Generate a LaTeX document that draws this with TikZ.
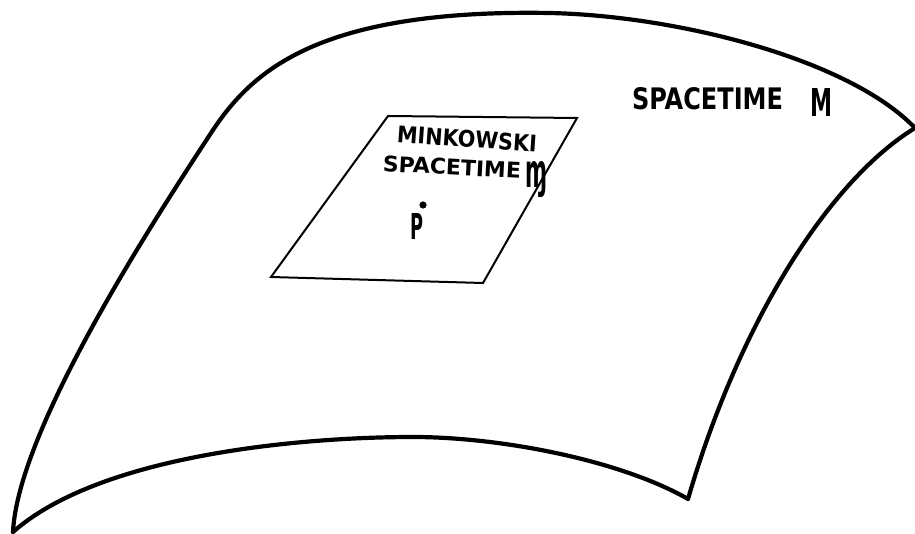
\documentclass[tikz,border=0pt]{standalone}
\usepackage{fontspec}
\usepackage{graphicx}
\setmainfont{DejaVu Sans}
\tikzset{
  edge/.style={line width=4.2pt, line cap=round, line join=round},
  patch/.style={line width=2pt, line join=miter},
  hand/.style={inner sep=0pt, outer sep=0pt, anchor=center}
}
\begin{document}
\begin{tikzpicture}[x=1pt,y=-1pt]
\useasboundingbox (0,0) rectangle (915,534);
% outer sheet (spacetime M)
\coordinate (bl) at (13,532);
\coordinate (lm) at (213,130);
\coordinate (top) at (550,13);
\coordinate (tr) at (915,128);
\coordinate (br) at (688,499);
\coordinate (bm) at (413,437);
\draw[edge] (bl) .. controls (18,430) and (150,226) .. (lm)
                 .. controls (253,70) and (320,9) .. (top)
                 .. controls (680,16) and (850,60) .. (tr);
\draw[edge] (tr) .. controls (830,180) and (740,320) .. (br);
\draw[edge] (br) .. controls (620,460) and (500,437) .. (bm)
                 .. controls (300,437) and (100,455) .. (bl);
% Minkowski patch
\coordinate (p1) at (388,116);
\coordinate (p2) at (577,118);
\coordinate (p3) at (483,283);
\coordinate (p4) at (271,277);
\draw[patch] (p1) -- (p2) -- (p3) -- (p4) -- cycle;
% labels
\node[hand] (st) at (707.5,99) {\resizebox{151pt}{22pt}{\bfseries SPACETIME}};
\node[hand] (bigm) at (821.5,102.5) {\resizebox{22pt}{28pt}{\bfseries M}};
\node[hand, rotate=-4] (mink) at (467,139) {\resizebox{140pt}{17pt}{\bfseries MINKOWSKI}};
\node[hand, rotate=-3] (st2) at (452,167) {\resizebox{138pt}{16pt}{\bfseries SPACETIME}};
\node[hand] (smallm) at (536,180) {\resizebox*{22pt}{36pt}{\bfseries ɱ}};
\fill (423,205) circle (3.6pt);
\node[hand] (pt) at (417,227) {\resizebox{13pt}{26pt}{\bfseries P}};
\end{tikzpicture}
\end{document}
